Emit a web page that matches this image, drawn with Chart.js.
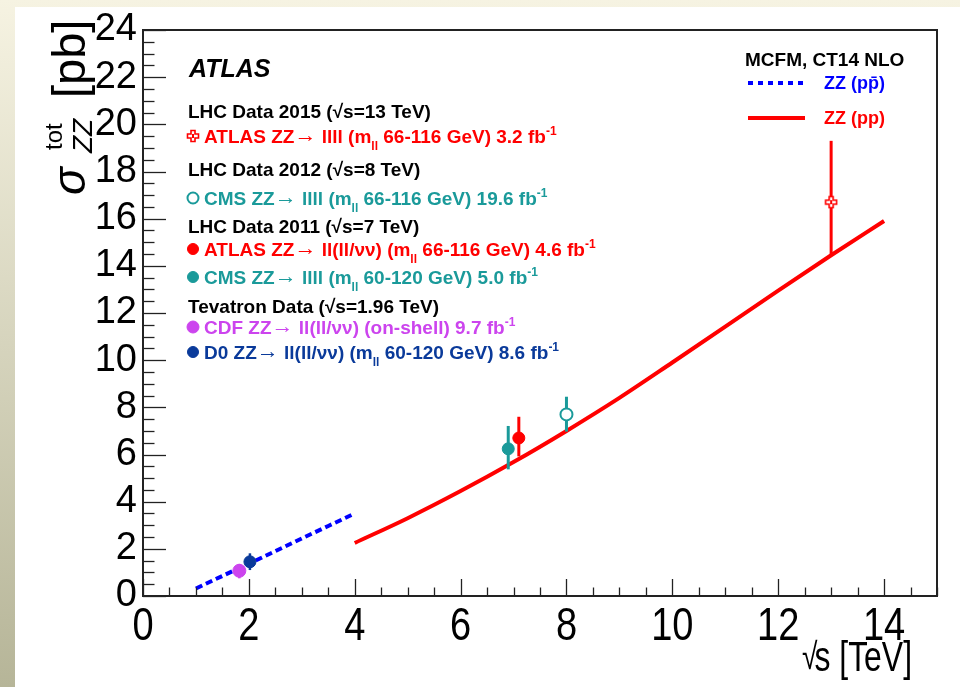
<!DOCTYPE html>
<html><head><meta charset="utf-8">
<script src="https://cdn.jsdelivr.net/npm/chart.js@4.4.1/dist/chart.umd.min.js"></script>
<style>html,body{margin:0;padding:0;background:#fff}#wrap{width:960px;height:687px;position:relative}</style>
</head><body><div id="wrap"><canvas id="c" width="960" height="687"></canvas></div>
<script>
// ---------- data ----------
const tevSqrtS = [1.0, 1.5, 2.0, 2.5, 3.0, 3.5, 4.0];
const tevXsec  = [0.32, 0.85, 1.37, 1.90, 2.44, 2.97, 3.50];
const lhcSqrtS = [4, 5, 6, 7, 8, 9, 10, 11, 12, 13, 14];
const lhcXsec  = [2.25, 3.30, 4.45, 5.68, 7.00, 8.40, 9.90, 11.42, 12.95, 14.45, 15.90];
const measNames  = ['ATLAS 13 TeV', 'CMS 8 TeV', 'ATLAS 7 TeV', 'CMS 7 TeV', 'CDF 1.96 TeV', 'D0 1.96 TeV'];
const measSqrtS  = [13.0, 8.0, 7.1, 6.9, 1.82, 2.02];
const measXsec   = [16.7, 7.7, 6.7, 6.24, 1.07, 1.45];
const measErrUp  = [2.6, 0.75, 0.9, 0.97, 0.29, 0.36];
const measErrDn  = [2.2, 0.73, 0.78, 0.87, 0.32, 0.35];
const xTickValues = [0, 2, 4, 6, 8, 10, 12, 14];
const yTickValues = [0, 2, 4, 6, 8, 10, 12, 14, 16, 18, 20, 22, 24];

// ---------- styles ----------
const RED = '#ff0000', TEAL = '#1a9a9a', MAG = '#cc44ee', NAVY = '#0a3a9a', BLUE = '#0000ff';
const measColors = [RED, TEAL, RED, TEAL, MAG, NAVY];
const FS = '"Liberation Sans", Arial, Helvetica, sans-serif';

function makeOpenCross(color){
  const c = document.createElement('canvas'); c.width = 14; c.height = 14;
  const g = c.getContext('2d'); g.translate(7,7);
  g.strokeStyle = color; g.lineWidth = 1.6;
  const a = 2, b = 5.5;
  g.beginPath();
  g.moveTo(-a,-b); g.lineTo(a,-b); g.lineTo(a,-a); g.lineTo(b,-a); g.lineTo(b,a); g.lineTo(a,a);
  g.lineTo(a,b); g.lineTo(-a,b); g.lineTo(-a,a); g.lineTo(-b,a); g.lineTo(-b,-a); g.lineTo(-a,-a); g.closePath();
  g.fillStyle = '#fff'; g.fill();
  g.stroke();
  g.beginPath(); g.moveTo(0,-a); g.lineTo(0,a); g.lineWidth=2; g.stroke();
  return c;
}
const openCross = makeOpenCross(RED);
const measStyles = [openCross, 'circle', 'circle', 'circle', 'circle', 'circle'];
const measFill   = ['#fff', '#fff', RED, TEAL, MAG, NAVY];
const measBorderW= [0, 2, 1, 1, 1, 1];
const measRadius = [7, 6, 6, 6, 6.5, 6];

// ---------- plugins ----------
const bgPlugin = {
  id: 'bg',
  beforeDraw(chart){
    const ctx = chart.ctx;
    ctx.save();
    const gr = ctx.createLinearGradient(0, 0, 0, 687);
    gr.addColorStop(0, '#f6f3e2');
    gr.addColorStop(1, '#b6b598');
    ctx.fillStyle = gr; ctx.fillRect(0, 0, 960, 687);
    ctx.fillStyle = '#ffffff'; ctx.fillRect(15, 7, 945, 680);
    ctx.restore();
  }
};

const errPlugin = {
  id: 'errbars',
  beforeDatasetDraw(chart, args){
    if (args.index !== 2) return;
    const ctx = chart.ctx, xs = chart.scales.x, ys = chart.scales.y;
    ctx.save();
    measSqrtS.forEach((sx, i) => {
      const px = xs.getPixelForValue(sx);
      ctx.strokeStyle = measColors[i];
      ctx.lineWidth = i >= 4 ? 2.5 : 3;
      ctx.beginPath();
      ctx.moveTo(px, ys.getPixelForValue(measXsec[i] + measErrUp[i]));
      ctx.lineTo(px, ys.getPixelForValue(measXsec[i] - measErrDn[i]));
      ctx.stroke();
    });
    ctx.restore();
  }
};

function rich(ctx, x, y, segs, color){
  let cx = x;
  for (const s of segs){
    ctx.font = s.f; ctx.fillStyle = s.c || color;
    ctx.fillText(s.t, cx, y + (s.dy || 0));
    cx += ctx.measureText(s.t).width + (s.sp || 0);
  }
  return cx;
}

const B = 'bold 19px ' + FS, SM = 'bold 12px ' + FS, AR = '22px "Liberation Serif", "DejaVu Serif", serif';
function entry(head, mid){
  return [{t: head, f: B}, {t: '\u2192', f: AR, dy: -1}, {t: mid, f: B}];
}
function mll(range, lumi){
  return [{t: '(m', f: B}, {t: 'll', f: SM, dy: 7}, {t: ' ' + range + ' GeV) ' + lumi + ' fb', f: B}, {t: '-1', f: SM, dy: -8}];
}

const textPlugin = {
  id: 'texts',
  afterDraw(chart){
    const ctx = chart.ctx, ca = chart.chartArea, xs = chart.scales.x, ys = chart.scales.y;
    ctx.save();
    // ticks
    ctx.strokeStyle = '#222'; ctx.lineWidth = 1.3;
    for (let v = 0; v <= 15.001; v += 0.5){
      const px = Math.round(xs.getPixelForValue(v)) + 0.5;
      const L = (Math.abs(v % 2) < 1e-6) ? 17 : 8.5;
      ctx.beginPath(); ctx.moveTo(px, ca.bottom); ctx.lineTo(px, ca.bottom - L); ctx.stroke();
    }
    for (let v = 0; v <= 24.001; v += 0.5){
      const py = Math.round(ys.getPixelForValue(v)) + 0.5;
      const L = (Math.abs(v % 2) < 1e-6) ? 23 : 11.5;
      ctx.beginPath(); ctx.moveTo(ca.left, py); ctx.lineTo(ca.left + L, py); ctx.stroke();
    }
    // frame
    ctx.strokeStyle = '#222'; ctx.lineWidth = 2;
    ctx.strokeRect(ca.left, ca.top, ca.right - ca.left, ca.bottom - ca.top);

    // x tick labels (condensed like the original)
    ctx.fillStyle = '#000'; ctx.textAlign = 'center'; ctx.textBaseline = 'alphabetic';
    ctx.font = '47px ' + FS;
    xTickValues.forEach(v => {
      const px = xs.getPixelForValue(v);
      ctx.save(); ctx.translate(px, 640); ctx.scale(0.81, 1);
      ctx.fillText(String(v), 0, 0);
      ctx.restore();
    });

    // x axis title
    ctx.save();
    ctx.translate(912, 671); ctx.scale(0.76, 1);
    ctx.textAlign = 'right';
    ctx.font = '42px ' + FS;
    const wt = ctx.measureText('s [TeV]').width;
    ctx.fillText('s [TeV]', 0, 0);
    ctx.font = '37px ' + FS;
    ctx.fillText('\u221A', -wt + 4, -2);
    ctx.restore();

    // y axis title
    ctx.textAlign = 'left';
    ctx.save();
    ctx.translate(85, 197); ctx.rotate(-Math.PI/2);
    ctx.font = 'italic 46px ' + FS; ctx.fillText('\u03C3', 2, 0);
    ctx.font = 'italic 28px ' + FS; ctx.fillText('ZZ', 44, 7);
    ctx.font = '24px ' + FS; ctx.fillText('tot', 47, -23);
    ctx.font = '47px ' + FS; ctx.fillText('[pb]', 99, 0);
    ctx.restore();

    // ATLAS label
    ctx.font = 'italic bold 25px ' + FS; ctx.fillStyle = '#000';
    ctx.fillText('ATLAS', 189, 77);

    // legend (left)
    const X0 = 188, XT = 204;
    const hdr = (t, y) => rich(ctx, X0, y, [{t: t, f: B}], '#000');
    hdr('LHC Data 2015 (\u221As=13 TeV)', 118);
    rich(ctx, XT, 143, entry('ATLAS ZZ', ' llll ').concat(mll('66-116', '3.2')), RED);
    hdr('LHC Data 2012 (\u221As=8 TeV)', 176);
    rich(ctx, XT, 205, entry('CMS ZZ', ' llll ').concat(mll('66-116', '19.6')), TEAL);
    hdr('LHC Data 2011 (\u221As=7 TeV)', 233);
    rich(ctx, XT, 256, entry('ATLAS ZZ', ' ll(ll/\u03BD\u03BD) ').concat(mll('66-116', '4.6')), RED);
    rich(ctx, XT, 284, entry('CMS ZZ', ' llll ').concat(mll('60-120', '5.0')), TEAL);
    hdr('Tevatron Data (\u221As=1.96 TeV)', 313);
    rich(ctx, XT, 334, entry('CDF ZZ', ' ll(ll/\u03BD\u03BD) (on-shell) 9.7 fb').concat([{t: '-1', f: SM, dy: -8}]), MAG);
    rich(ctx, XT, 359, entry('D0 ZZ', ' ll(ll/\u03BD\u03BD) ').concat(mll('60-120', '8.6')), NAVY);

    // legend markers
    const mk = (y, i) => {
      if (measStyles[i] === openCross){ ctx.drawImage(openCross, 193 - 7, y - 7); return; }
      ctx.beginPath(); ctx.arc(193, y, measRadius[i] - 0.5, 0, Math.PI*2);
      ctx.fillStyle = measFill[i]; ctx.fill();
      ctx.lineWidth = measBorderW[i]; ctx.strokeStyle = measColors[i]; ctx.stroke();
    };
    mk(136, 0); mk(198, 1); mk(249, 2); mk(277, 3); mk(327, 4); mk(352, 5);

    // legend (right)
    ctx.font = 'bold 19px ' + FS; ctx.fillStyle = '#000';
    ctx.fillText('MCFM, CT14 NLO', 745, 66);
    ctx.lineWidth = 4;
    ctx.strokeStyle = BLUE; ctx.setLineDash([5, 5]);
    ctx.beginPath(); ctx.moveTo(748, 83); ctx.lineTo(806, 83); ctx.stroke();
    ctx.setLineDash([]);
    ctx.strokeStyle = RED;
    ctx.beginPath(); ctx.moveTo(748, 118); ctx.lineTo(805, 118); ctx.stroke();
    ctx.font = 'bold 18px ' + FS;
    ctx.fillStyle = BLUE; ctx.fillText('ZZ (pp\u0304)', 824, 89);
    ctx.fillStyle = RED; ctx.fillText('ZZ (pp)', 824, 124);
    ctx.restore();
  }
};

// ---------- chart ----------
new Chart(document.getElementById('c'), {
  type: 'scatter',
  data: {
    datasets: [
      { label: 'ZZ (pp\u0304) MCFM', type: 'line', data: tevSqrtS.map((x, i) => ({x, y: tevXsec[i]})),
        borderColor: BLUE, borderWidth: 4, borderDash: [7, 4], pointRadius: 0, fill: false,
        cubicInterpolationMode: 'monotone', order: 3 },
      { label: 'ZZ (pp) MCFM', type: 'line', data: lhcSqrtS.map((x, i) => ({x, y: lhcXsec[i]})),
        borderColor: RED, borderWidth: 4, pointRadius: 0, fill: false,
        cubicInterpolationMode: 'monotone', order: 2 },
      { label: 'Measurements', data: measSqrtS.map((x, i) => ({x, y: measXsec[i]})),
        pointStyle: measStyles, pointRadius: measRadius, pointBackgroundColor: measFill,
        pointBorderColor: measColors, pointBorderWidth: measBorderW, order: 1 }
    ]
  },
  options: {
    responsive: false, animation: false, devicePixelRatio: 1,
    layout: { padding: { top: 30, right: 23, left: 0, bottom: 0 } },
    plugins: { legend: { display: false }, tooltip: { enabled: false } },
    scales: {
      x: { type: 'linear', min: 0, max: 15,
        afterBuildTicks: s => { s.ticks = xTickValues.map(v => ({value: v})); },
        afterFit: s => { s.height = 91; },
        grid: { display: false, drawTicks: false }, border: { display: false },
        ticks: { display: false } },
      y: { type: 'linear', min: 0, max: 24,
        afterBuildTicks: s => { s.ticks = yTickValues.map(v => ({value: v})); },
        afterFit: s => { s.width = 143; },
        grid: { display: false, drawTicks: false }, border: { display: false },
        ticks: { color: '#000', padding: 6, autoSkip: false, font: { family: FS, size: 38 } } }
    }
  },
  plugins: [bgPlugin, errPlugin, textPlugin]
});
</script></body></html>
